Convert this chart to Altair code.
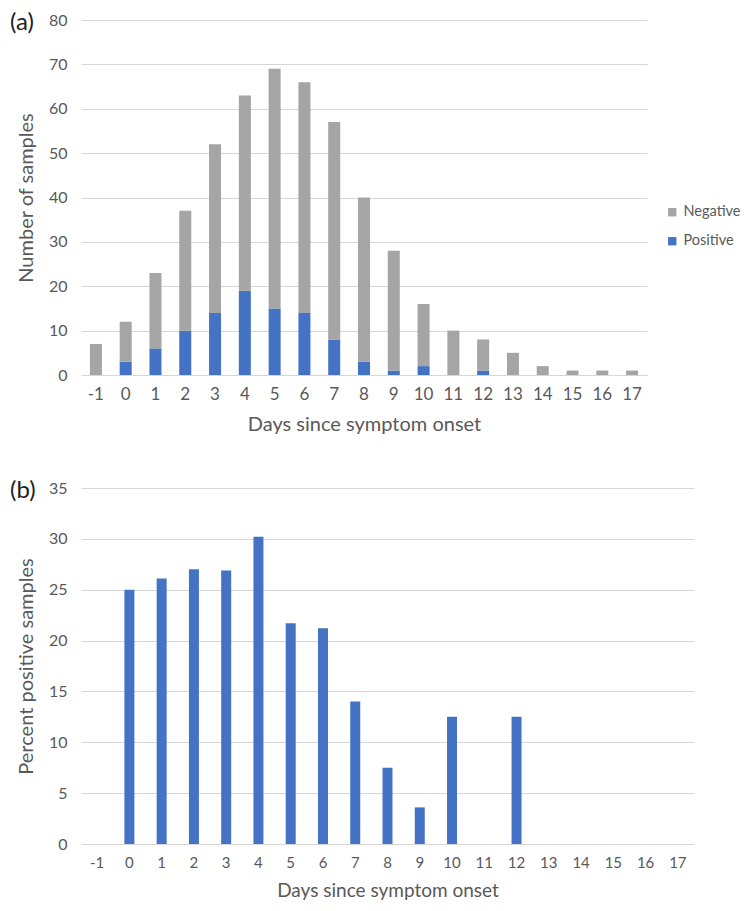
import altair as alt
import pandas as pd

days = ["-1", "0", "1", "2", "3", "4", "5", "6", "7", "8", "9", "10",
        "11", "12", "13", "14", "15", "16", "17"]
total = [7, 12, 23, 37, 52, 63, 69, 66, 57, 40, 28, 16, 10, 8, 5, 2, 1, 1, 1]
positive = [0, 3, 6, 10, 14, 19, 15, 14, 8, 3, 1, 2, 0, 1, 0, 0, 0, 0, 0]
negative = [t - p for t, p in zip(total, positive)]
percent = [0, 25.0, 26.1, 27.0, 26.9, 30.2, 21.7, 21.2, 14.0, 7.5, 3.6, 12.5,
           0, 12.5, 0, 0, 0, 0, 0]

FONT = "Lato"
TXT = "#595959"
GREY = "#A5A5A5"
BLUE = "#4472C4"

rows = []
for d, n, p in zip(days, negative, positive):
    rows.append({"day": d, "status": "Positive", "count": p, "ord": 0})
    rows.append({"day": d, "status": "Negative", "count": n, "ord": 1})
df_a = pd.DataFrame(rows)
df_b = pd.DataFrame({"day": days, "pct": percent})


def x_axis(size, tsize, tpad):
    return alt.Axis(title="Days since symptom onset", labelAngle=0,
                    labelFontSize=size, labelPadding=11, titlePadding=tpad,
                    titleFontSize=tsize,
                    grid=False, domain=False, ticks=False)


bars_a = alt.Chart(df_a).mark_bar(size=12).encode(
    x=alt.X("day:O", sort=days, axis=x_axis(17, 20, 12),
            scale=alt.Scale(paddingInner=0, paddingOuter=0)),
    y=alt.Y("count:Q", stack="zero",
            scale=alt.Scale(domain=[0, 80]),
            axis=alt.Axis(title="Number of samples", values=list(range(0, 81, 10)),
                          labelPadding=14, titlePadding=12, domain=False, ticks=False)),
    color=alt.Color("status:N",
                    scale=alt.Scale(domain=["Negative", "Positive"], range=[GREY, BLUE]),
                    legend=alt.Legend(title=None, orient="none", legendX=584, legendY=185,
                                      symbolType="square", symbolSize=70,
                                      symbolStrokeWidth=0, rowPadding=14, labelOffset=4,
                                      padding=0,
                                      labelFontSize=14.5, labelColor=TXT, labelFont=FONT)),
    order=alt.Order("ord:Q"),
)

lab_a = alt.Chart(pd.DataFrame({"t": ["(a)"]})).mark_text(
    align="left", baseline="middle", fontSize=24, font=FONT, color="#222222"
).encode(text="t:N", x=alt.value(-71), y=alt.value(3))

top = alt.layer(bars_a, lab_a).properties(width=566, height=355)

bars_b = alt.Chart(df_b).mark_bar(size=10, color=BLUE).encode(
    x=alt.X("day:O", sort=days, axis=x_axis(15, 19, 11),
            scale=alt.Scale(paddingInner=0, paddingOuter=0)),
    y=alt.Y("pct:Q", scale=alt.Scale(domain=[0, 35]),
            axis=alt.Axis(title="Percent positive samples", values=list(range(0, 36, 5)),
                          labelPadding=14, titlePadding=12, domain=False, ticks=False)),
)

lab_b = alt.Chart(pd.DataFrame({"t": ["(b)"]})).mark_text(
    align="left", baseline="middle", fontSize=24, font=FONT, color="#222222"
).encode(text="t:N", x=alt.value(-71), y=alt.value(3))

bottom = alt.layer(bars_b, lab_b).properties(width=613, height=356)

chart = alt.vconcat(top, bottom, spacing=45).properties(
    padding={"left": 2, "top": 3, "right": 0, "bottom": 0}
).configure_view(stroke=None).configure_axis(
    labelFont=FONT, titleFont=FONT, labelColor=TXT, titleColor=TXT,
    labelFontSize=16, titleFontSize=20, titleFontWeight="normal",
    gridColor="#D6D6D6", gridWidth=1,
)

chart.save("out.html", embed_options={"renderer": "svg", "actions": False})
